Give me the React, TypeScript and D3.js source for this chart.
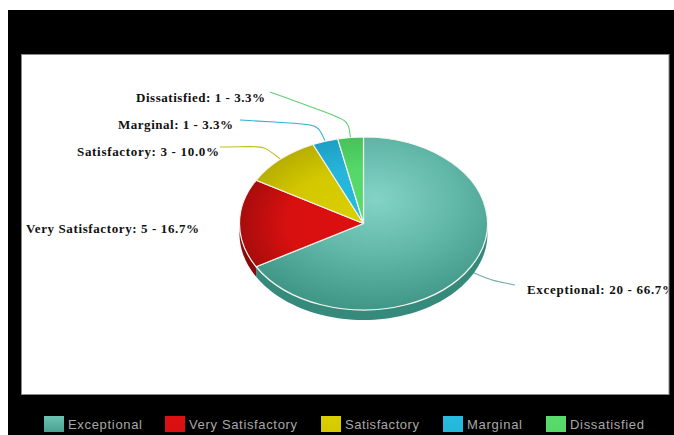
import React from "react";
import * as d3 from "d3";

// Survey responses per rating
const categories = ["Exceptional", "Very Satisfactory", "Satisfactory", "Marginal", "Dissatisfied"];
const counts = [20, 5, 3, 1, 1];

// Palette: light centre, mid tone and rim of the top face, then the extruded side
const lightColors = ["#84d4c6", "#dc1010", "#dacf00", "#27bbdf", "#58dc6c"];
const midColors = ["#62b8a9", "#d81010", "#d4c900", "#25b6da", "#55d869"];
const rimColors = ["#429888", "#a80c0c", "#b8ae00", "#1f9fc4", "#46c25a"];
const sideColors = ["#358a7b", "#8a0a0a", "#8f8700", "#17809e", "#35994a"];
const leaderColors = ["#6faea2", "#cc1111", "#c4ba1e", "#2fb2d4", "#62cf72"];

// Plot geometry
const cx = 363.5;
const cy = 223.5;
const rx = 124;
const ry = 86.5;
const depth = 10;

// Label anchors: text start, baseline, drawn width and where its leader starts
const labelLayout = [
  { x: 527, y: 294, w: 148, lx: 515, ly: 285, leader: true },
  { x: 26, y: 233, w: 173, lx: 0, ly: 0, leader: false },
  { x: 77, y: 156, w: 142, lx: 220, ly: 147, leader: true },
  { x: 118, y: 129, w: 115, lx: 240, ly: 120, leader: true },
  { x: 136, y: 102, w: 129, lx: 270, ly: 92, leader: true },
];

// Legend entries: swatch start and label start/width
const legendLayout = [
  { sx: 44, tx: 68, tw: 74 },
  { sx: 165, tx: 189, tw: 108 },
  { sx: 321, tx: 345, tw: 74 },
  { sx: 443, tx: 467, tw: 55 },
  { sx: 546, tx: 570, tw: 74 },
];

const total = d3.sum(counts);
const slices = d3
  .pie<number>()
  .value((d) => d)
  .sort(null)(counts);

const arcPath = d3.arc<d3.PieArcDatum<number>>().innerRadius(0).outerRadius(rx);

// Point on the ellipse at a clockwise angle from twelve o'clock
const rim = (a: number, k = 1, dy = 0): [number, number] => [
  cx + rx * k * Math.sin(a),
  cy - ry * k * Math.cos(a) + dy,
];

const lerp = (p: [number, number], q: [number, number], t: number): [number, number] => [
  p[0] + (q[0] - p[0]) * t,
  p[1] + (q[1] - p[1]) * t,
];

// Outline of the visible side wall between two angles, lower half only
const sidePath = (start: number, end: number) => {
  const a0 = Math.max(start, Math.PI / 2);
  const a1 = Math.min(end, (3 * Math.PI) / 2);
  if (a1 <= a0) return null;
  const steps = d3.range(0, 61).map((i) => a0 + ((a1 - a0) * i) / 60);
  const pts = [...steps.map((a) => rim(a)), ...steps.slice().reverse().map((a) => rim(a, 1, depth))];
  return d3.line()(pts) + "Z";
};

const leaderLine = d3.line().curve(d3.curveBasis);

export default function App() {
  return (
    <svg
      width={674}
      height={435}
      style={{ position: "absolute", left: 0, top: 0, display: "block" }}
    >
      <defs>
        {slices.map((s, i) => (
          <radialGradient
            key={i}
            id={`face-${i}`}
            gradientUnits="userSpaceOnUse"
            cx={i === 0 ? 12 : 0}
            cy={i === 0 ? -35 : 0}
            r={i === 0 ? rx * 1.25 : rx}
          >
            <stop offset="0%" stopColor={lightColors[i]} />
            <stop offset={i === 0 ? "50%" : "62%"} stopColor={midColors[i]} />
            <stop offset="100%" stopColor={rimColors[i]} />
          </radialGradient>
        ))}
        <clipPath id="plot-clip">
          <rect x={22} y={55} width={646.5} height={339} />
        </clipPath>
      </defs>

      {/* Page, dark frame and white plot panel */}
      <rect width={674} height={435} fill="#ffffff" />
      <rect x={8} y={10} width={666} height={425} fill="#000000" />
      <rect x={21.5} y={54.5} width={647.5} height={340} fill="#ffffff" stroke="#8a8a8a" strokeWidth={1} />

      {/* Leader lines run from each label to the slice's rim */}
      <g fill="none" strokeWidth={1.1}>
        {slices.map((s, i) => {
          const l = labelLayout[i];
          if (!l.leader) return null;
          const mid = (s.startAngle + s.endAngle) / 2;
          const dy = mid > Math.PI / 2 && mid < (3 * Math.PI) / 2 ? depth / 2 : 0;
          const knee = rim(mid, 1.2, dy);
          const end = rim(mid, 1, dy);
          const start: [number, number] = [l.lx, l.ly];
          const line = [start, start, lerp(start, knee, 0.7), knee, lerp(knee, end, 0.6), end, end];
          return <path key={i} d={leaderLine(line) ?? ""} stroke={leaderColors[i]} />;
        })}
      </g>

      {/* Extruded side wall */}
      {slices.map((s, i) => {
        const d = sidePath(s.startAngle, s.endAngle);
        return d ? <path key={i} d={d} fill={sideColors[i]} /> : null;
      })}

      {/* Top face: circular arcs squashed into an ellipse */}
      <g transform={`translate(${cx},${cy}) scale(1,${ry / rx})`}>
        {slices.map((s, i) => (
          <path
            key={i}
            d={arcPath(s) ?? ""}
            fill={`url(#face-${i})`}
            stroke="#f4f4ee"
            strokeWidth={1.2}
            strokeLinejoin="round"
            style={{ vectorEffect: "non-scaling-stroke" }}
          />
        ))}
      </g>

      {/* Data labels */}
      <g clipPath="url(#plot-clip)" fontFamily="'Liberation Serif', serif" fontWeight={700} fontSize={13} fill="#111111">
        {categories.map((c, i) => {
          const l = labelLayout[i];
          const pct = ((counts[i] / total) * 100).toFixed(1);
          return (
            <text key={c} x={l.x} y={l.y} textLength={l.w} lengthAdjust="spacing">
              {`${c}: ${counts[i]} - ${pct}%`}
            </text>
          );
        })}
      </g>

      {/* Legend */}
      <g>
        {categories.map((c, i) => {
          const l = legendLayout[i];
          return (
            <g key={c}>
              <linearGradient id={`legend-${i}`} x1="0" y1="0" x2="0" y2="1">
                <stop offset="0%" stopColor={i === 0 ? "#6cc3b4" : lightColors[i]} />
                <stop offset="100%" stopColor={i === 0 ? "#4aa091" : midColors[i]} />
              </linearGradient>
              <rect x={l.sx} y={416} width={20} height={16} fill={`url(#legend-${i})`} />
              <text
                x={l.tx}
                y={429}
                textLength={l.tw}
                lengthAdjust="spacing"
                fontFamily="'Liberation Sans', sans-serif"
                fontWeight={400}
                fontSize={13}
                fill="#a8a8a8"
              >
                {c}
              </text>
            </g>
          );
        })}
      </g>
    </svg>
  );
}
